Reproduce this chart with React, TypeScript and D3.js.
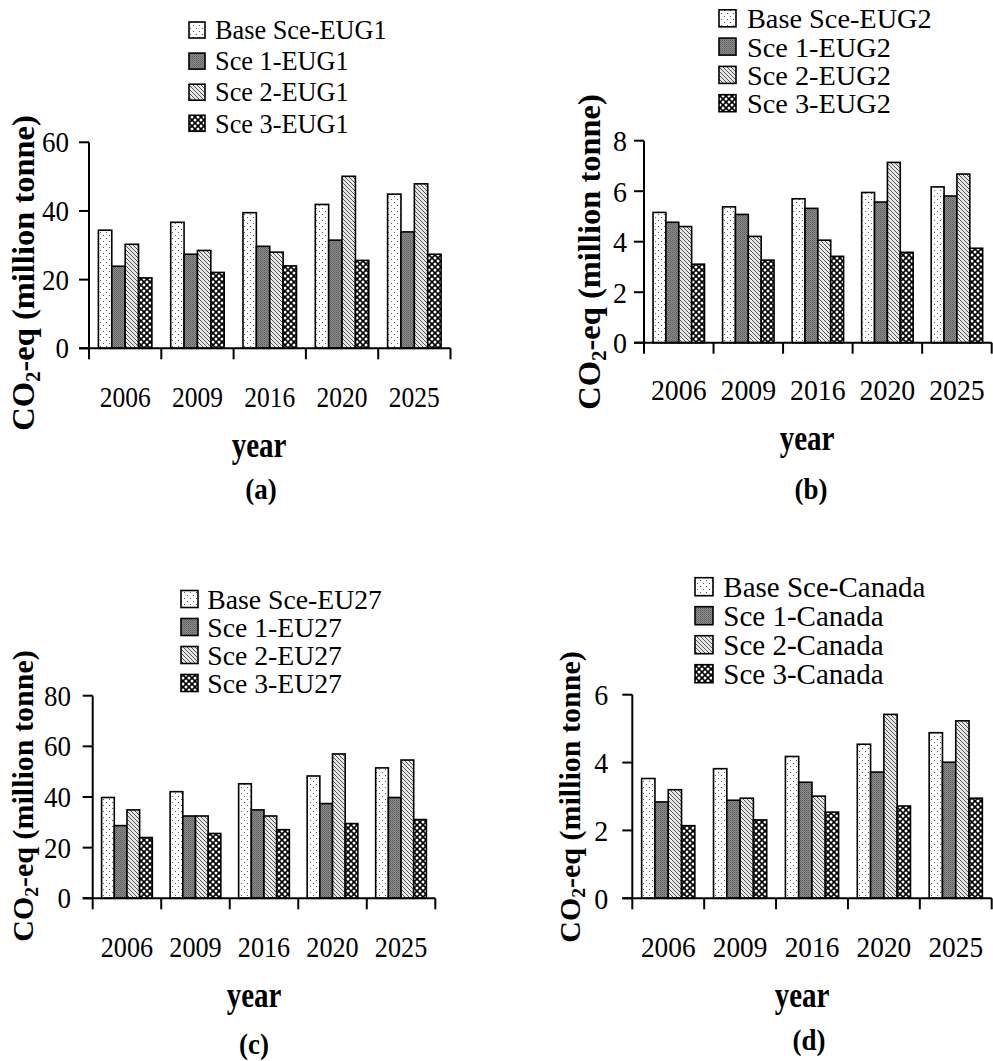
import React from 'react';
import * as d3 from 'd3';

const years = ['2006', '2009', '2016', '2020', '2025'];
const scenarioLabels = ['Base Sce', 'Sce 1', 'Sce 2', 'Sce 3'];

// (a) EUG1
const eug1Base = [34.4, 36.7, 39.5, 41.9, 44.9];
const eug1S1 = [23.9, 27.4, 29.7, 31.5, 33.9];
const eug1S2 = [30.3, 28.5, 28.0, 50.1, 47.9];
const eug1S3 = [20.5, 22.1, 24.0, 25.6, 27.4];
const eug1Ticks = [0, 20, 40, 60];

// (b) EUG2
const eug2Base = [5.16, 5.38, 5.7, 5.95, 6.17];
const eug2S1 = [4.77, 5.08, 5.32, 5.57, 5.81];
const eug2S2 = [4.6, 4.21, 4.06, 7.14, 6.68];
const eug2S3 = [3.11, 3.27, 3.42, 3.58, 3.74];
const eug2Ticks = [0, 2, 4, 6, 8];

// (c) EU27
const eu27Base = [39.8, 42.1, 45.2, 48.3, 51.5];
const eu27S1 = [28.7, 32.5, 34.9, 37.4, 39.8];
const eu27S2 = [34.9, 32.5, 32.5, 57.0, 54.6];
const eu27S3 = [24.0, 25.6, 27.1, 29.5, 31.1];
const eu27Ticks = [0, 20, 40, 60, 80];

// (d) Canada
const canBase = [3.53, 3.82, 4.18, 4.54, 4.88];
const canS1 = [2.84, 2.89, 3.42, 3.72, 4.01];
const canS2 = [3.2, 2.95, 3.01, 5.42, 5.23];
const canS3 = [2.14, 2.31, 2.54, 2.72, 2.95];
const canTicks = [0, 2, 4, 6];

const panels = [
  {
    id: 'a', region: 'EUG1', series: [eug1Base, eug1S1, eug1S2, eug1S3], ticks: eug1Ticks,
    x0: 89, x1: 450.5, yBase: 348.3, yTop: 142.3, tickLabelGap: 20, tickFont: 27,
    titleX: 34, titleY: 273, titleFont: 32.5,
    legX: 189, legTextX: 215, legY0: 30, legDy: 31.1, legFont: 26.3, box: 16,
    yearY: 406.7, yearFont: 25.5, yearK: 1.13, xlabX: 259, xlabY: 457, tagX: 261, tagY: 499,
  },
  {
    id: 'b', region: 'EUG2', series: [eug2Base, eug2S1, eug2S2, eug2S3], ticks: eug2Ticks,
    x0: 644, x1: 991.7, yBase: 342.7, yTop: 140.7, tickLabelGap: 17, tickFont: 28,
    titleX: 600, titleY: 252, titleFont: 32.5,
    legX: 719, legTextX: 747, legY0: 18.3, legDy: 28.3, legFont: 28.3, box: 17,
    yearY: 400, yearFont: 27.8, yearK: 1.03, xlabX: 807, xlabY: 450, tagX: 811, tagY: 499,
  },
  {
    id: 'c', region: 'EU27', series: [eu27Base, eu27S1, eu27S2, eu27S3], ticks: eu27Ticks,
    x0: 92.7, x1: 435.3, yBase: 898.3, yTop: 695.7, tickLabelGap: 21.6, tickFont: 27,
    titleX: 33, titleY: 796, titleFont: 30,
    legX: 181, legTextX: 207.3, legY0: 599, legDy: 28, legFont: 27.7, box: 17,
    yearY: 956.7, yearFont: 26.2, yearK: 1.12, xlabX: 254, xlabY: 1007, tagX: 254, tagY: 1054,
  },
  {
    id: 'd', region: 'Canada', series: [canBase, canS1, canS2, canS3], ticks: canTicks,
    x0: 632.3, x1: 991.7, yBase: 898.3, yTop: 694.7, tickLabelGap: 24, tickFont: 28,
    titleX: 580, titleY: 797, titleFont: 30,
    legX: 695, legTextX: 723.3, legY0: 586.7, legDy: 29, legFont: 29, box: 18,
    yearY: 956.7, yearFont: 27.3, yearK: 1.08, xlabX: 802, xlabY: 1007, tagX: 809, tagY: 1050,
  },
];

const fills = ['url(#pBase)', 'url(#pS1)', 'url(#pS2)', 'url(#pS3)'];
const serif = '"Liberation Serif", "Times New Roman", serif';

function Panel({ cfg }: { cfg: any }) {
  const x = d3.scaleBand<string>().domain(years).range([cfg.x0, cfg.x1]).paddingInner(0).paddingOuter(0);
  const bw = x.bandwidth();
  const groupFrac = 0.74;
  const inner = d3.scaleBand<number>().domain([0, 1, 2, 3]).range([0, bw * groupFrac]);
  const off = (bw * (1 - groupFrac)) / 2;
  const yMax = cfg.ticks[cfg.ticks.length - 1];
  const y = d3.scaleLinear().domain([0, yMax]).range([cfg.yBase, cfg.yTop]);
  const boundaries = d3.range(years.length + 1).map((i) => cfg.x0 + i * bw);
  const axisLeft = cfg.x0 - 10;

  return (
    <g>
      {years.map((yr, i) => (
        <g key={yr}>
          {cfg.series.map((vals: number[], s: number) => (
            <rect
              key={s}
              x={(x(yr) as number) + off + (inner(s) as number)}
              y={y(vals[i])}
              width={inner.bandwidth()}
              height={y(0) - y(vals[i])}
              fill={fills[s]}
              stroke="#000"
              strokeWidth={1.6}
            />
          ))}
        </g>
      ))}
      <line x1={cfg.x0} x2={cfg.x0} y1={y(yMax)} y2={y(0)} stroke="#000" strokeWidth={2} />
      {cfg.ticks.map((t: number) => (
        <g key={t}>
          <line x1={axisLeft} x2={cfg.x0} y1={y(t)} y2={y(t)} stroke="#000" strokeWidth={2} />
          <text
            transform={`translate(${cfg.x0 - cfg.tickLabelGap},${y(t)}) scale(1,1.06)`}
            dy="0.35em"
            textAnchor="end"
            fontFamily={serif}
            fontSize={cfg.tickFont}
          >
            {t}
          </text>
        </g>
      ))}
      <line x1={axisLeft} x2={cfg.x1} y1={y(0)} y2={y(0)} stroke="#000" strokeWidth={2} />
      {boundaries.map((b: number, i: number) => (
        <line key={i} x1={b} x2={b} y1={y(0)} y2={y(0) + 11} stroke="#000" strokeWidth={2} />
      ))}
      {years.map((yr) => (
        <text
          key={yr}
          transform={`translate(${(x(yr) as number) + bw / 2},${cfg.yearY}) scale(1,${cfg.yearK})`}
          textAnchor="middle"
          fontFamily={serif}
          fontSize={cfg.yearFont}
        >
          {yr}
        </text>
      ))}
      <text
        transform={`translate(${cfg.titleX},${cfg.titleY}) rotate(-90)`}
        textAnchor="middle"
        fontFamily={serif}
        fontWeight="bold"
        fontSize={cfg.titleFont}
      >
        <tspan>CO</tspan>
        <tspan fontSize={cfg.titleFont * 0.65} dy={cfg.titleFont * 0.18}>2</tspan>
        <tspan dy={-cfg.titleFont * 0.18}>-eq (million tonne)</tspan>
      </text>
      <text
        transform={`translate(${cfg.xlabX},${cfg.xlabY}) scale(1,1.2)`}
        textAnchor="middle"
        fontFamily={serif}
        fontWeight="bold"
        fontSize={29}
      >
        year
      </text>
      <text
        transform={`translate(${cfg.tagX},${cfg.tagY}) scale(1,1.1)`}
        textAnchor="middle"
        fontFamily={serif}
        fontWeight="bold"
        fontSize={27}
      >
        ({cfg.id})
      </text>
      {scenarioLabels.map((lab, s) => {
        const cy = cfg.legY0 + s * cfg.legDy;
        return (
          <g key={lab}>
            <rect
              x={cfg.legX}
              y={cy - cfg.box / 2}
              width={cfg.box}
              height={cfg.box}
              fill={fills[s]}
              stroke="#000"
              strokeWidth={1.6}
            />
            <text x={cfg.legTextX} y={cy} dy="0.35em" fontFamily={serif} fontSize={cfg.legFont}>
              {`${lab}-${cfg.region}`}
            </text>
          </g>
        );
      })}
    </g>
  );
}

export default function App() {
  return (
    <svg
      width={993}
      height={1061}
      viewBox="0 0 993 1061"
      style={{ position: 'absolute', left: 0, top: 0, background: '#fff' }}
    >
      <defs>
        <pattern id="pBase" width={6} height={6} patternUnits="userSpaceOnUse">
          <rect width={6} height={6} fill="#fff" />
          <circle cx={1.5} cy={1.5} r={0.6} fill="#444" />
          <circle cx={4.5} cy={4.5} r={0.6} fill="#444" />
        </pattern>
        <pattern id="pS1" width={2} height={2} patternUnits="userSpaceOnUse">
          <rect width={2} height={2} fill="#8c8c8c" />
          <rect width={1} height={1} fill="#5e5e5e" />
          <rect x={1} y={1} width={1} height={1} fill="#6e6e6e" />
        </pattern>
        <pattern id="pS2" width={4} height={4} patternUnits="userSpaceOnUse">
          <rect width={4} height={4} fill="#e8e8e8" />
          <path d="M0,0 L4,4 M-1,3 L1,5 M3,-1 L5,1" stroke="#555" strokeWidth={1} />
        </pattern>
        <pattern id="pS3" width={6} height={6} patternUnits="userSpaceOnUse">
          <rect width={6} height={6} fill="#000" />
          <circle cx={0} cy={3} r={1.5} fill="#fff" />
          <circle cx={6} cy={3} r={1.5} fill="#fff" />
          <circle cx={3} cy={0} r={1.5} fill="#fff" />
          <circle cx={3} cy={6} r={1.5} fill="#fff" />
        </pattern>
      </defs>
      <rect width={993} height={1061} fill="#fff" />
      {panels.map((p) => (
        <Panel key={p.id} cfg={p} />
      ))}
    </svg>
  );
}
